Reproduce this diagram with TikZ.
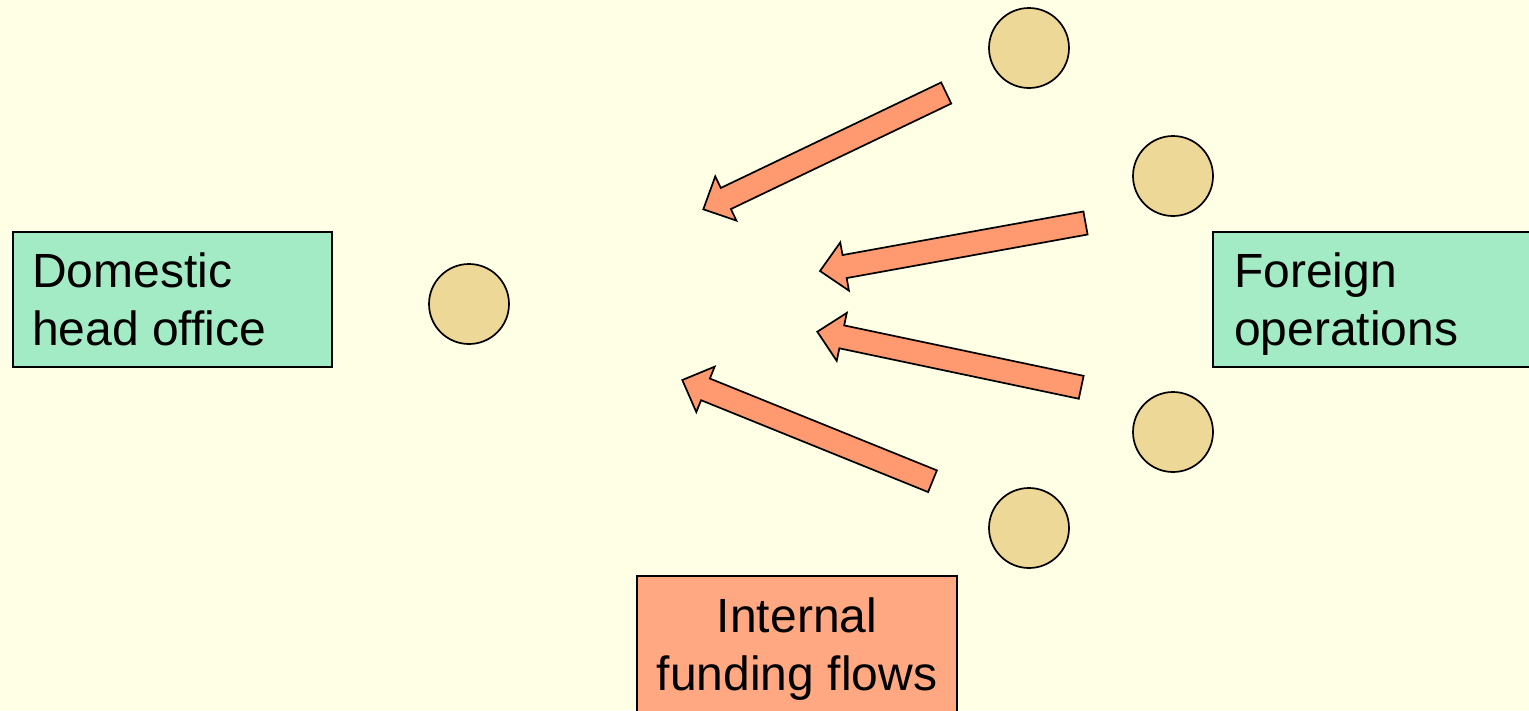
\documentclass[tikz,border=0pt]{standalone}
\usepackage{fontspec}
\setmainfont{Liberation Sans}
\usetikzlibrary{calc}

\definecolor{paper}{HTML}{FFFFE6}
\definecolor{mint}{HTML}{A3EBC4}
\definecolor{sand}{HTML}{EDD898}
\definecolor{coral}{HTML}{FF9970}
\definecolor{peach}{HTML}{FFA882}

\tikzset{
  panel/.style={draw=black, line width=1.7pt, inner sep=0pt},
  site/.style={circle, draw=black, line width=1.7pt, fill=sand,
    minimum size=80pt, inner sep=0pt},
  caption/.style={font=\fontsize{48}{57.6}\selectfont, inner sep=0pt},
  flow/.style={draw=black, line width=1.7pt, fill=coral, line join=miter},
}

% block arrow: #1 name, #2 tail point, #3 tip point
\newcommand{\flowarrow}[3]{%
  \coordinate (#1-b) at ($(#3)!25pt!(#2)$);
  \draw[flow]
    ($(#2)!11.7pt!90:(#3)$) -- ($(#1-b)!11.7pt!90:(#3)$) --
    ($(#1-b)!24.5pt!90:(#3)$) -- (#3) --
    ($(#1-b)!24.5pt!-90:(#3)$) -- ($(#1-b)!11.7pt!-90:(#3)$) --
    ($(#2)!11.7pt!-90:(#3)$) -- cycle;
}

\begin{document}
\begin{tikzpicture}[x=1pt, y=-1pt]
  \useasboundingbox (0,0) rectangle (1529,710);
  \fill[paper] (0,0) rectangle (1529,710);
  \clip (0,0) rectangle (1529,710);

  % boxes (the base anchor sits on the last line)
  \node[panel, fill=mint, minimum width=319pt, minimum height=135pt]
    (home) at (172.5,299.5) {};
  \node[caption, anchor=base west, align=left] (home-text) at (32,345)
    {Domestic\\head office};

  \node[panel, fill=mint, minimum width=332pt, minimum height=135pt]
    (abroad) at (1379,299.5) {};
  \node[caption, anchor=base west, align=left] (abroad-text) at (1234,345)
    {Foreign\\operations};

  \node[panel, fill=peach, minimum width=320pt, minimum height=150pt]
    (funding) at (797,651) {};
  \node[caption, anchor=base, align=center] (funding-text) at (797,690)
    {Internal\\funding flows};

  % units
  \node[site] (hq) at (469,304) {};
  \node[site] (f1) at (1029,48) {};
  \node[site] (f2) at (1173,176) {};
  \node[site] (f3) at (1173,432) {};
  \node[site] (f4) at (1029,528) {};

  % flows back to the head office
  \coordinate (t1) at (946.2,93);   \coordinate (p1) at (703.3,209.3);
  \coordinate (t2) at (1085.5,223); \coordinate (p2) at (820,271);
  \coordinate (t3) at (1081.2,387.3); \coordinate (p3) at (817.3,331.7);
  \coordinate (t4) at (932.5,481.2); \coordinate (p4) at (682.3,380);
  \flowarrow{a1}{t1}{p1}
  \flowarrow{a2}{t2}{p2}
  \flowarrow{a3}{t3}{p3}
  \flowarrow{a4}{t4}{p4}
\end{tikzpicture}
\end{document}
